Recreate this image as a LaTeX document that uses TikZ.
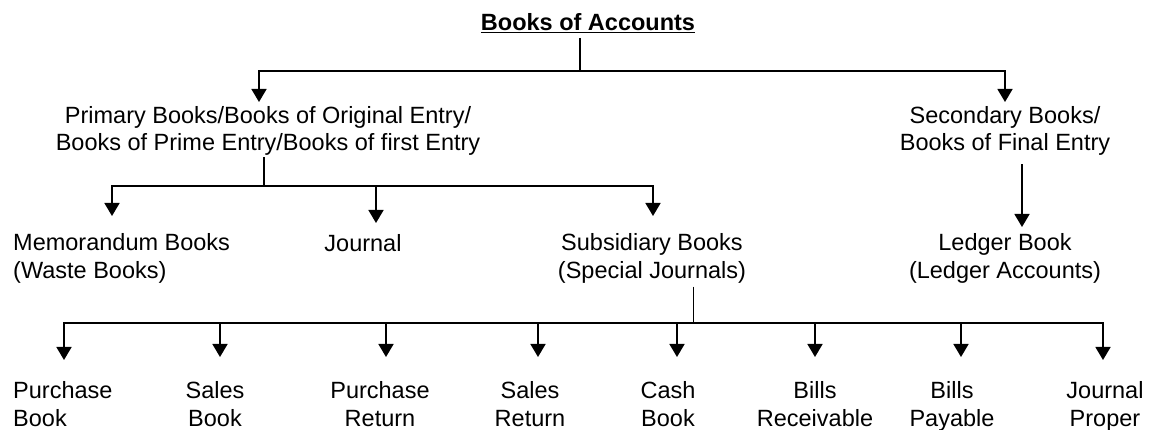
\documentclass[tikz,border=0pt]{standalone}
\usepackage{fontspec}
\setmainfont{Liberation Sans}
\usetikzlibrary{arrows.meta}
\begin{document}
\begin{tikzpicture}[x=1pt,y=-1pt,
  lbl/.style={inner sep=0pt, font=\fontsize{23.5}{27.5}\selectfont, align=center,
    execute at begin node={\strut}, execute at end node={\strut}},
  lbll/.style={lbl, align=left, anchor=west},
  conn/.style={line width=1.6pt},
  arr/.style={conn,-{Triangle[width=15pt,length=13pt]}}]
\useasboundingbox[fill=white] (0,0) rectangle (1149,430);

% nodes
\node[inner sep=0pt, font=\fontsize{23.5}{27.5}\selectfont\bfseries] (title) at (588,23) {\underline{Books of Accounts}};
\node[lbl] (primary) at (268,132.5) {Primary Books/Books of Original Entry/\\Books of Prime Entry/Books of first Entry};
\node[lbl] (secondary) at (1005,132.5) {Secondary Books/\\Books of Final Entry};
\node[lbll] (memo) at (13,260) {Memorandum Books\\(Waste Books)};
\node[lbl] (journal) at (363,246) {Journal};
\node[lbl] (subsid) at (652,260) {Subsidiary Books\\(Special Journals)};
\node[lbl] (ledger) at (1005,260) {Ledger Book\\(Ledger Accounts)};

\node[lbll] (pb) at (13,408) {Purchase\\Book};
\node[lbl] (sb) at (215,408) {Sales\\Book};
\node[lbl] (pr) at (380,408) {Purchase\\Return};
\node[lbl] (sr) at (530,408) {Sales\\Return};
\node[lbl] (cb) at (668,408) {Cash\\Book};
\node[lbl] (br) at (815,408) {Bills\\Receivable};
\node[lbl] (bp) at (952,408) {Bills\\Payable};
\node[lbl] (jp) at (1105,408) {Journal\\Proper};

% junctions and arrow tips
\coordinate (j1) at (580,71);
\coordinate (tPrim) at (259,102);
\coordinate (tSec) at (1005,102);
\coordinate (j2) at (264,186);
\coordinate (tMemo) at (112,216);
\coordinate (tJour) at (376,223);
\coordinate (tSub) at (653,216);
\coordinate (tLed) at (1022,227);
\coordinate (j3) at (693.5,323);
\coordinate (tPB) at (64,360);
\coordinate (tSB) at (220,357);
\coordinate (tPR) at (386,357);
\coordinate (tSR) at (538,357);
\coordinate (tCB) at (677,357);
\coordinate (tBR) at (815,357);
\coordinate (tBP) at (961,357);
\coordinate (tJP) at (1103,360);

% level 1
\draw[conn] (title.south -| j1) ++(0,5) -- (j1);
\draw[arr] (j1) -| (tPrim);
\draw[arr] (j1) -| (tSec);

% level 2
\draw[conn] (primary.south -| j2) ++(0,-2) -- (j2);
\draw[arr] (j2) -| (tMemo);
\draw[arr] (j2) -| (tSub);
\draw[arr] (tJour |- j2) -- (tJour);

\draw[arr] (secondary.south -| tLed) ++(0,5) -- (tLed);

% level 3
\draw[conn] (subsid.south -| j3) -- (j3);
\draw[arr] (j3) -| (tPB);
\draw[arr] (j3) -| (tJP);
\draw[arr] (tSB |- j3) -- (tSB);
\draw[arr] (tPR |- j3) -- (tPR);
\draw[arr] (tSR |- j3) -- (tSR);
\draw[arr] (tCB |- j3) -- (tCB);
\draw[arr] (tBR |- j3) -- (tBR);
\draw[arr] (tBP |- j3) -- (tBP);
\end{tikzpicture}
\end{document}
